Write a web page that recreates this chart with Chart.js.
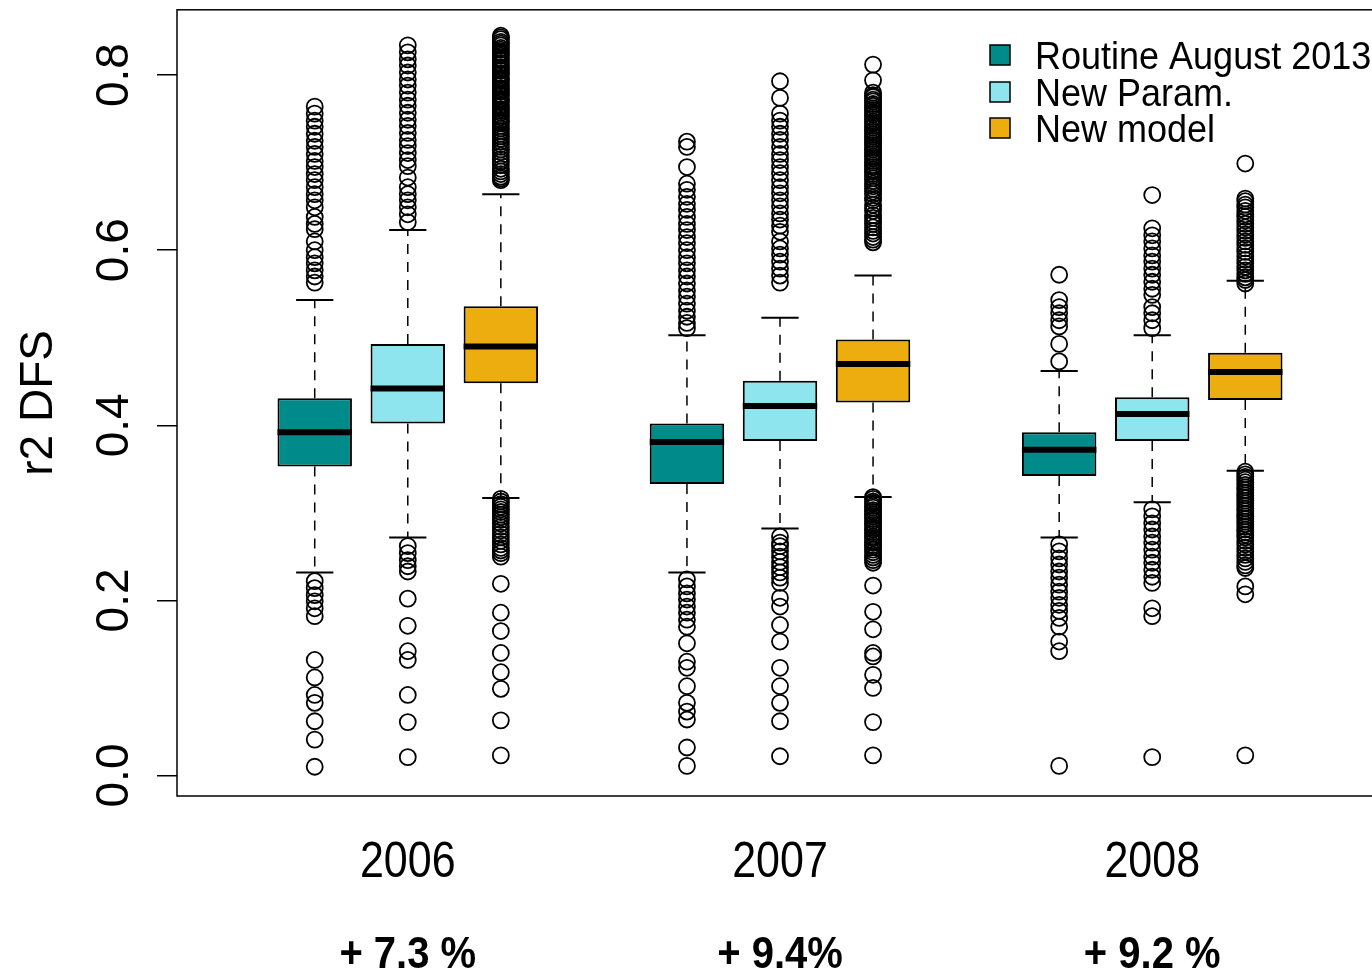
<!DOCTYPE html>
<html>
<head>
<meta charset="utf-8">
<title>r2 DFS</title>
<script src="https://cdn.jsdelivr.net/npm/chart.js@4.4.1/dist/chart.umd.min.js"></script>
<style>
  html, body { margin: 0; padding: 0; background: #fff; overflow: hidden; }
  #wrap { width: 1400px; height: 975px; }
</style>
</head>
<body>
<div id="wrap"><canvas id="boxChart" width="1400" height="975"></canvas></div>
<script>
// years on the x axis and the gain written under each one
const years = ['2006', '2007', '2008'];
const gains = ['+ 7.3 %', '+ 9.4%', '+ 9.2 %'];
const seriesNames = ['Routine August 2013', 'New Param.', 'New model'];
const seriesColors = ['#008B8B', '#8EE5EE', '#EEAD0E'];

// x slot of each box, one row per series (a gap slot between years)
const boxSlots = [[1, 5, 9], [2, 6, 10], [3, 7, 11]];
const yearSlots = [2, 6, 10];
const yTicks = [0, 0.2, 0.4, 0.6, 0.8];
const yTickLabels = ['0.0', '0.2', '0.4', '0.6', '0.8'];

// box stats per year: [lower whisker, Q1, median, Q3, upper whisker]
const routineBoxes = [
  [0.232, 0.353, 0.392, 0.431, 0.543],
  [0.232, 0.333, 0.381, 0.402, 0.503],
  [0.272, 0.342, 0.372, 0.392, 0.462]
];
const paramBoxes = [
  [0.272, 0.402, 0.442, 0.493, 0.623],
  [0.282, 0.382, 0.422, 0.451, 0.523],
  [0.312, 0.382, 0.413, 0.432, 0.503]
];
const modelBoxes = [
  [0.317, 0.448, 0.490, 0.536, 0.664],
  [0.318, 0.426, 0.470, 0.498, 0.571],
  [0.348, 0.429, 0.461, 0.483, 0.565]
];

// outliers per year
const routineOutliers = [
  [0.764, 0.756, 0.748, 0.741, 0.733, 0.725, 0.718, 0.710, 0.702, 0.695, 0.687, 0.680, 0.672,
   0.664, 0.657, 0.649, 0.638, 0.630, 0.624, 0.610, 0.600, 0.592, 0.585, 0.577, 0.570, 0.563,
   0.222, 0.214, 0.206, 0.199, 0.191, 0.182, 0.132, 0.112, 0.092, 0.083, 0.062, 0.041, 0.010],
  [0.724, 0.718, 0.695, 0.676, 0.669, 0.661, 0.653, 0.646, 0.638, 0.630, 0.623, 0.615, 0.608,
   0.600, 0.592, 0.585, 0.577, 0.570, 0.562, 0.554, 0.547, 0.539, 0.531, 0.524, 0.517, 0.511,
   0.224, 0.216, 0.208, 0.201, 0.193, 0.186, 0.178, 0.170, 0.151, 0.130, 0.123, 0.102, 0.083,
   0.073, 0.064, 0.032, 0.011],
  [0.572, 0.543, 0.535, 0.528, 0.520, 0.513, 0.493, 0.473,
   0.264, 0.256, 0.248, 0.241, 0.233, 0.226, 0.218, 0.210, 0.203, 0.195, 0.188, 0.180, 0.170,
   0.153, 0.142, 0.011]
];
const paramOutliers = [
  [0.834, 0.826, 0.818, 0.811, 0.803, 0.795, 0.788, 0.780, 0.772, 0.765, 0.757, 0.749, 0.742,
   0.734, 0.726, 0.719, 0.711, 0.703, 0.696, 0.683, 0.672, 0.664, 0.657, 0.649, 0.641, 0.632,
   0.262, 0.254, 0.246, 0.239, 0.233, 0.202, 0.171, 0.142, 0.132, 0.092, 0.061, 0.021],
  [0.793, 0.774, 0.756, 0.748, 0.741, 0.733, 0.726, 0.718, 0.710, 0.703, 0.695, 0.688, 0.680,
   0.672, 0.665, 0.657, 0.650, 0.642, 0.635, 0.628, 0.621, 0.610, 0.602, 0.595, 0.587, 0.579,
   0.571, 0.563,
   0.273, 0.266, 0.262, 0.256, 0.250, 0.244, 0.238, 0.232, 0.226, 0.220, 0.203, 0.193, 0.172,
   0.153, 0.123, 0.102, 0.083, 0.062, 0.022],
  [0.663, 0.625, 0.617, 0.610, 0.602, 0.594, 0.587, 0.579, 0.572, 0.564, 0.556, 0.549, 0.535,
   0.528, 0.520, 0.511,
   0.304, 0.296, 0.288, 0.281, 0.273, 0.266, 0.258, 0.250, 0.243, 0.235, 0.227, 0.220, 0.191,
   0.182, 0.021]
];
const modelOutliers = [
  [0.845, 0.843, 0.841, 0.838, 0.836, 0.834, 0.831, 0.829, 0.826, 0.824, 0.822, 0.819, 0.817,
   0.814, 0.812, 0.809, 0.807, 0.805, 0.802, 0.800, 0.797, 0.795, 0.793, 0.790, 0.788, 0.785,
   0.783, 0.781, 0.778, 0.776, 0.773, 0.771, 0.769, 0.766, 0.764, 0.761, 0.759, 0.757, 0.754,
   0.752, 0.749, 0.747, 0.745, 0.742, 0.739, 0.736, 0.733, 0.730, 0.727, 0.724, 0.721, 0.718,
   0.715, 0.712, 0.708, 0.704, 0.701, 0.697, 0.693, 0.690, 0.687, 0.684, 0.682, 0.680,
   0.316, 0.313, 0.310, 0.307, 0.304, 0.301, 0.298, 0.295, 0.292, 0.288, 0.284, 0.280, 0.276,
   0.272, 0.268, 0.264, 0.260, 0.257, 0.254, 0.250, 0.219, 0.186, 0.165, 0.140, 0.118, 0.099,
   0.063, 0.023],
  [0.812, 0.794, 0.780, 0.777, 0.775, 0.772, 0.770, 0.767, 0.765, 0.762, 0.760, 0.757, 0.755,
   0.752, 0.750, 0.747, 0.745, 0.742, 0.740, 0.737, 0.735, 0.732, 0.730, 0.727, 0.725, 0.722,
   0.720, 0.717, 0.715, 0.712, 0.710, 0.707, 0.705, 0.702, 0.700, 0.697, 0.695, 0.692, 0.690,
   0.687, 0.685, 0.682, 0.679, 0.676, 0.673, 0.670, 0.667, 0.664, 0.660, 0.657, 0.652, 0.648,
   0.645, 0.640, 0.637, 0.633, 0.630, 0.626, 0.622, 0.619, 0.615, 0.612, 0.609,
   0.318, 0.316, 0.313, 0.311, 0.308, 0.306, 0.303, 0.301, 0.298, 0.296, 0.293, 0.291, 0.288,
   0.286, 0.283, 0.281, 0.278, 0.276, 0.273, 0.271, 0.268, 0.266, 0.263, 0.261, 0.258, 0.255,
   0.252, 0.249, 0.246, 0.243, 0.217, 0.187, 0.167, 0.140, 0.136, 0.115, 0.100, 0.061, 0.023],
  [0.699, 0.659, 0.656, 0.652, 0.649, 0.645, 0.641, 0.638, 0.634, 0.630, 0.626, 0.622, 0.618,
   0.614, 0.610, 0.606, 0.602, 0.598, 0.593, 0.589, 0.585, 0.581, 0.577, 0.573, 0.569, 0.566,
   0.562,
   0.347, 0.344, 0.341, 0.338, 0.335, 0.332, 0.329, 0.326, 0.323, 0.320, 0.317, 0.314, 0.311,
   0.308, 0.305, 0.302, 0.299, 0.296, 0.293, 0.290, 0.287, 0.284, 0.281, 0.278, 0.275, 0.272,
   0.268, 0.264, 0.260, 0.256, 0.252, 0.248, 0.244, 0.240, 0.237, 0.216, 0.207, 0.023]
];

const allBoxes = [routineBoxes, paramBoxes, modelBoxes];
const allOutliers = [routineOutliers, paramOutliers, modelOutliers];

const FONT = '"Liberation Sans", Arial, sans-serif';

// text helper: optional vertical stretch, optional rotation
function drawText(ctx, text, x, y, font, align, stretch, rotate) {
  ctx.save();
  ctx.translate(x, y);
  ctx.scale(1, stretch);
  if (rotate) ctx.rotate(-Math.PI / 2);
  ctx.font = font;
  ctx.fillStyle = '#000';
  ctx.textAlign = align;
  ctx.textBaseline = 'alphabetic';
  ctx.fillText(text, 0, 0);
  ctx.restore();
}

// whiskers, caps, medians, frame and the text around the plot
const boxPlotExtras = {
  id: 'boxPlotExtras',
  beforeDatasetsDraw(chart) {
    const {ctx, scales: {x, y}} = chart;
    ctx.save();
    ctx.strokeStyle = '#000';
    allBoxes.forEach((boxes, s) => {
      boxes.forEach((b, i) => {
        const slot = boxSlots[s][i];
        const px = x.getPixelForValue(slot);
        const half = x.getPixelForValue(slot + 0.2) - px;
        // dashed whiskers
        ctx.setLineDash([10, 8]);
        ctx.lineWidth = 1.5;
        ctx.beginPath();
        ctx.moveTo(px, y.getPixelForValue(b[3]));
        ctx.lineTo(px, y.getPixelForValue(b[4]));
        ctx.moveTo(px, y.getPixelForValue(b[1]));
        ctx.lineTo(px, y.getPixelForValue(b[0]));
        ctx.stroke();
        // caps
        ctx.setLineDash([]);
        ctx.lineWidth = 2;
        ctx.beginPath();
        [b[0], b[4]].forEach(v => {
          const py = y.getPixelForValue(v);
          ctx.moveTo(px - half, py);
          ctx.lineTo(px + half, py);
        });
        ctx.stroke();
      });
    });
    ctx.restore();
  },
  afterDatasetsDraw(chart) {
    const {ctx, chartArea: area, scales: {x, y}} = chart;
    ctx.save();
    // medians
    ctx.strokeStyle = '#000';
    ctx.lineWidth = 6;
    ctx.lineCap = 'butt';
    allBoxes.forEach((boxes, s) => {
      boxes.forEach((b, i) => {
        const slot = boxSlots[s][i];
        const py = y.getPixelForValue(b[2]);
        ctx.beginPath();
        ctx.moveTo(x.getPixelForValue(slot - 0.4), py);
        ctx.lineTo(x.getPixelForValue(slot + 0.4), py);
        ctx.stroke();
      });
    });

    // plot frame
    ctx.lineWidth = 1.5;
    ctx.strokeRect(area.left, area.top, area.right - area.left, area.bottom - area.top);
    ctx.restore();

    // y tick labels, rotated like R's default
    yTicks.forEach((v, i) => {
      drawText(ctx, yTickLabels[i], 128, y.getPixelForValue(v), '46px ' + FONT, 'center', 1, true);
    });
    drawText(ctx, 'r2 DFS', 52, (area.top + area.bottom) / 2, '46px ' + FONT, 'center', 1, true);

    // year labels and gains
    years.forEach((yr, i) => {
      const px = x.getPixelForValue(yearSlots[i]);
      drawText(ctx, yr, px, 877, '43px ' + FONT, 'center', 1.15, false);
      drawText(ctx, gains[i], px, 968, 'bold 40px ' + FONT, 'center', 1.1, false);
    });

    // legend
    const legendRows = [55, 92, 128];
    seriesNames.forEach((name, s) => {
      const cy = legendRows[s];
      ctx.save();
      ctx.fillStyle = seriesColors[s];
      ctx.strokeStyle = '#000';
      ctx.lineWidth = 1.5;
      ctx.fillRect(990, cy - 10, 20, 20);
      ctx.strokeRect(990, cy - 10, 20, 20);
      ctx.restore();
      drawText(ctx, name, 1035, cy + 14, '36px ' + FONT, 'left', 1.1, false);
    });
  }
};

const datasets = [];
seriesNames.forEach((name, s) => {
  datasets.push({
    type: 'bar',
    label: name,
    data: allBoxes[s].map((b, i) => ({x: boxSlots[s][i], y: [b[1], b[3]]})),
    backgroundColor: seriesColors[s],
    borderColor: '#000',
    borderWidth: 2,
    borderSkipped: false,
    grouped: false,
    categoryPercentage: 1,
    barPercentage: 0.8
  });
});
seriesNames.forEach((name, s) => {
  const pts = [];
  allOutliers[s].forEach((vals, i) => {
    vals.forEach(v => pts.push({x: boxSlots[s][i], y: v}));
  });
  datasets.push({
    type: 'scatter',
    label: name + ' outliers',
    data: pts,
    pointStyle: 'circle',
    pointRadius: 8,
    pointBackgroundColor: 'rgba(0,0,0,0)',
    pointBorderColor: '#000',
    pointBorderWidth: 1.8
  });
});

const ctx = document.getElementById('boxChart').getContext('2d');
new Chart(ctx, {
  type: 'bar',
  data: { datasets: datasets },
  options: {
    responsive: false,
    animation: false,
    layout: { padding: { left: 157, top: 8, right: 17, bottom: 179 } },
    scales: {
      x: {
        type: 'linear',
        offset: false,
        min: -0.48,
        max: 12.48,
        display: false
      },
      y: {
        type: 'linear',
        min: -0.0234,
        max: 0.8746,
        afterBuildTicks: (scale) => { scale.ticks = yTicks.map(v => ({value: v})); },
        ticks: { display: false },
        border: { display: false },
        grid: {
          drawOnChartArea: false,
          drawTicks: true,
          tickLength: 20,
          color: '#000',
          lineWidth: 1.5
        }
      }
    },
    plugins: {
      legend: { display: false },
      tooltip: { enabled: false }
    }
  },
  plugins: [boxPlotExtras]
});
</script>
</body>
</html>
